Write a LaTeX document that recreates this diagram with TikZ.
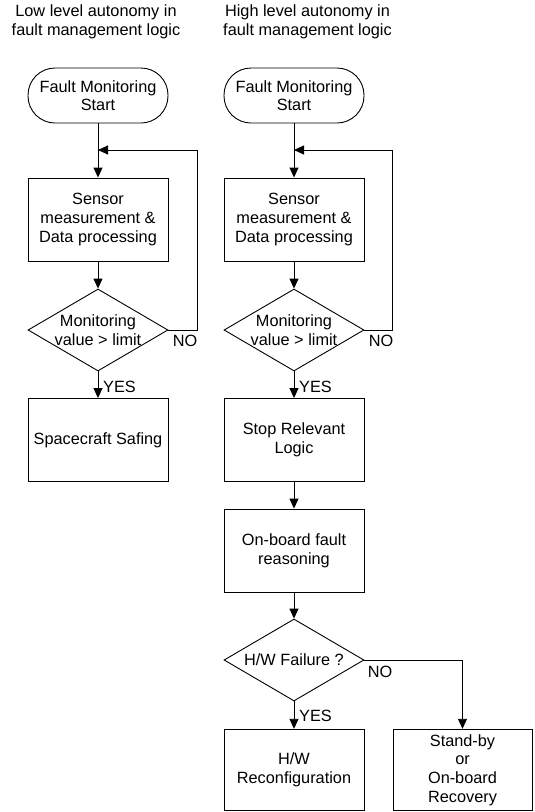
\documentclass[tikz,border=0pt]{standalone}
\usepackage{fontspec}
\setmainfont{Liberation Sans}
\usetikzlibrary{shapes.geometric,arrows.meta}
\begin{document}
\begin{tikzpicture}[x=1pt,y=-1pt,
  every node/.style={font=\fontsize{16.3}{18.6}\selectfont, inner sep=0pt},
  box/.style={draw, line width=0.9pt, minimum width=140pt, minimum height=83pt, align=center},
  botbox/.style={draw, line width=0.9pt, minimum width=140pt, minimum height=81.5pt, align=center},
  term/.style={draw, line width=0.9pt, rounded corners=27pt, minimum width=140pt, minimum height=55pt, align=center},
  dec/.style={draw, line width=0.9pt, diamond, minimum width=140pt, minimum height=82pt},
  txt/.style={align=center},
  arr/.style={line width=0.9pt, -{Triangle[length=10pt,width=9pt]}},
  ln/.style={line width=0.9pt}
]
\useasboundingbox (0,0) rectangle (535,812);

% titles
\node[txt] (titleL) at (96,22) {Low level autonomy in\\fault management logic};
\node[txt] (titleR) at (307.5,22) {High level autonomy in\\fault management logic};

% left column
\node[term] (startL) at (98,95.5) {Fault Monitoring\\Start};
\node[box] (sensL) at (98,219.5) {Sensor\\measurement \&\\Data processing};
\node[dec] (decL) at (98,330) {};
\node[txt] (decLt) at (98,330) {Monitoring\\value > limit};
\node[box] (safL) at (98,440) {Spacecraft Safing};
\coordinate (loopL) at (98,150);
\coordinate (cornL) at (197,150);

\draw[arr] (startL) -- (sensL);
\draw[arr] (sensL) -- (decL);
\draw[arr] (decL.east) -| (cornL) -- (loopL);
\draw[arr] (decL.south) -- (safL.north);
\node[anchor=west] (yesL) at (103,387) {YES};
\node (noL) at (185,341) {NO};

% right column
\node[term] (startR) at (294,95.5) {Fault Monitoring\\Start};
\node[box] (sensR) at (294,219.5) {Sensor\\measurement \&\\Data processing};
\node[dec] (decR) at (294,330) {};
\node[txt] (decRt) at (294,330) {Monitoring\\value > limit};
\node[box] (stopR) at (294,440) {Stop Relevant\\Logic};
\node[box] (reasR) at (294,550.5) {On-board fault\\reasoning};
\node[dec] (hwR) at (294,660) {};
\node[txt] (hwRt) at (294,660) {H/W Failure ?};
\node[botbox] (reconf) at (294,770) {H/W\\Reconfiguration};
\node[botbox, minimum width=139pt] (standby) at (462.5,770) {Stand-by\\or\\On-board\\Recovery};
\coordinate (loopR) at (294,150);
\coordinate (cornR) at (392,150);

\draw[arr] (startR) -- (sensR);
\draw[arr] (sensR) -- (decR);
\draw[arr] (decR.east) -| (cornR) -- (loopR);
\draw[arr] (decR.south) -- (stopR.north);
\draw[arr] (stopR) -- (reasR);
\draw[arr] (reasR) -- (hwR);
\draw[arr] (hwR.south) -- (reconf.north);
\draw[arr] (hwR.east) -| (standby.north);
\node[anchor=west] (yesR) at (299,387) {YES};
\node (noR) at (381,341) {NO};
\node[anchor=west] (yesH) at (299,716) {YES};
\node (noH) at (380,672) {NO};
\end{tikzpicture}
\end{document}
